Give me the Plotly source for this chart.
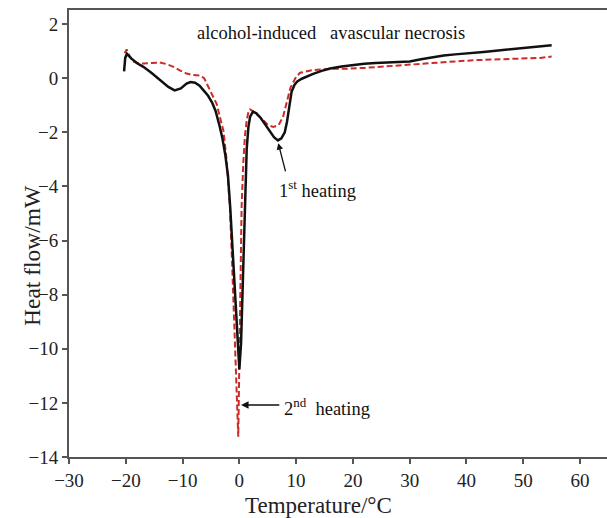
import plotly.graph_objects as go

# 1st heating (black solid)
x1 = [-20.3, -20.1, -19.8, -19.0, -18.0, -16.9, -15.5, -14.0, -12.5, -11.4, -10.3, -9.3, -8.6, -7.8,
      -7.0, -6.3, -5.5, -4.8, -4.2, -3.5, -3.0, -2.5, -2.0, -1.6, -1.2, -0.8, -0.4, 0.0, 0.3, 0.6,
      0.9, 1.1, 1.3, 1.6, 1.9, 2.4, 3.0, 3.8, 4.6, 5.4, 6.1, 6.8, 7.4, 8.0, 8.4, 8.8, 9.2, 9.7,
      10.2, 11.0, 12.0, 13.0, 14.5, 16.0, 18.0, 20.0, 22.0, 24.0, 26.0, 28.0, 30.0, 32.0, 34.0,
      36.0, 38.0, 40.0, 43.0, 46.0, 49.0, 52.0, 55.0]
y1 = [0.25, 0.75, 0.9, 0.72, 0.55, 0.42, 0.2, -0.07, -0.32, -0.45, -0.38, -0.2, -0.14, -0.17,
      -0.28, -0.45, -0.65, -0.9, -1.2, -1.75, -2.2, -2.8, -3.6, -4.8, -6.4, -8.0, -9.5, -10.75, -9.8, -7.8,
      -5.6, -4.0, -2.6, -1.8, -1.42, -1.24, -1.3, -1.48, -1.72, -1.97, -2.18, -2.3, -2.22, -2.0, -1.6, -1.05, -0.5, -0.25,
      -0.12, -0.02, 0.08, 0.16, 0.27, 0.36, 0.43, 0.49, 0.53, 0.56, 0.58, 0.58, 0.62, 0.7, 0.78,
      0.84, 0.88, 0.91, 0.97, 1.03, 1.1, 1.16, 1.22]

# 2nd heating (red dashed)
x2 = [-20.2, -19.85, -19.4, -18.7, -17.8, -16.9, -15.5, -14.0, -12.8, -11.6, -10.4, -9.3, -8.2, -7.0,
      -6.2, -5.5, -4.6, -4.0, -3.4, -2.8, -2.3, -1.66, -1.3, -0.9, -0.5, -0.19, 0.1, 0.4, 0.7, 1.0,
      1.3, 1.6, 1.9, 2.6, 3.6, 4.4, 5.1, 6.0, 6.9, 7.7, 8.2, 8.6, 9.0, 9.5, 10.0, 10.7, 12.0, 13.0,
      16.0, 19.0, 22.0, 25.0, 28.0, 31.0, 34.0, 38.0, 42.0, 46.0, 50.0, 53.0, 55.0]
y2 = [0.92, 1.06, 0.85, 0.62, 0.55, 0.54, 0.56, 0.58, 0.52, 0.42, 0.28, 0.17, 0.12, 0.1,
      0.0, -0.3, -0.7, -0.95, -1.45, -1.95, -2.9, -4.75, -6.7, -8.9, -11.1, -13.25, -9.0, -4.75, -3.1, -2.1,
      -1.55, -1.25, -1.15, -1.25, -1.43, -1.6, -1.74, -1.8, -1.74, -1.43, -1.05, -0.69, -0.35, -0.15, 0.05, 0.2, 0.27, 0.3,
      0.35, 0.35, 0.38, 0.43, 0.48, 0.53, 0.58, 0.62, 0.67, 0.7, 0.72, 0.75, 0.8]

x_ticks = [-30, -20, -10, 0, 10, 20, 30, 40, 50, 60]
x_tick_text = ["\u221230", "\u221220", "\u221210", "0", "10", "20", "30", "40", "50", "60"]
y_ticks = [-14, -12, -10, -8, -6, -4, -2, 0, 2]
y_tick_text = ["\u221214", "\u221212", "\u221210", "\u22128", "\u22126", "\u22124", "\u22122", "0", "2"]

SERIF = "Liberation Serif"
AX = "#555555"
TXT = "#222222"

fig = go.Figure()
fig.add_trace(go.Scatter(x=x2, y=y2, mode="lines",
                         line=dict(color="#cc2b26", width=2, dash="6px,3px"), name="2nd heating"))
fig.add_trace(go.Scatter(x=x1, y=y1, mode="lines",
                         line=dict(color="#111111", width=2.5), name="1st heating"))

fig.update_layout(
    width=607, height=518,
    margin=dict(l=69, r=0, t=10, b=61),
    paper_bgcolor="white", plot_bgcolor="white",
    showlegend=False,
    font=dict(family=SERIF, color=TXT),
    xaxis=dict(range=[-30, 64.75], tickvals=x_ticks, ticktext=x_tick_text,
               showgrid=False, zeroline=False, showline=True, linecolor=AX, linewidth=2,
               mirror=True, ticks="outside", ticklen=5, tickwidth=1.5, tickcolor=AX,
               tickfont=dict(size=19, family=SERIF, color=TXT)),
    yaxis=dict(range=[-14, 2.52], tickvals=y_ticks, ticktext=y_tick_text,
               showgrid=False, zeroline=False, showline=True, linecolor=AX, linewidth=2,
               mirror=False, ticks="outside", ticklen=5, tickwidth=1.5, tickcolor=AX,
               tickfont=dict(size=19, family=SERIF, color=TXT)),
)

anns = [
    dict(x=16.1, y=1.66, xref="x", yref="y", text="alcohol-induced\u00a0\u00a0 avascular necrosis",
         showarrow=False, font=dict(size=18.5, family=SERIF, color="#111111")),
    # 1st heating arrow
    dict(x=6.85, y=-2.4, xref="x", yref="y", ax=8.2, ay=-3.5, axref="x", ayref="y", text="",
         showarrow=True, arrowhead=2, arrowsize=1, arrowwidth=1.3, arrowcolor="#111111"),
    dict(x=6.7, y=-4.1, xref="x", yref="y", text="1<sup>st</sup> heating", xanchor="left",
         showarrow=False, font=dict(size=18.5, family=SERIF, color="#111111")),
    # 2nd heating arrow
    dict(x=0.3, y=-12.08, xref="x", yref="y", ax=7.3, ay=-12.08, axref="x", ayref="y", text="",
         showarrow=True, arrowhead=2, arrowsize=1, arrowwidth=1.5, arrowcolor="#111111"),
    dict(x=7.5, y=-12.15, xref="x", yref="y", text="2<sup>nd</sup>\u00a0 heating", xanchor="left",
         showarrow=False, font=dict(size=18.5, family=SERIF, color="#111111")),
    # axis titles
    dict(x=(318 - 69) / 538, y=-(505 - 457) / 447, xref="paper", yref="paper", text="Temperature/\u00b0C",
         showarrow=False, yanchor="middle", font=dict(size=23, family=SERIF, color=TXT)),
    dict(x=(17 - 69) / 538, y=(457 - 256) / 447, xref="paper", yref="paper", text="Heat flow/mW",
         showarrow=False, textangle=-90, font=dict(size=23.5, family=SERIF, color=TXT)),
]
fig.update_layout(annotations=anns)

fig.write_html("out.html")
